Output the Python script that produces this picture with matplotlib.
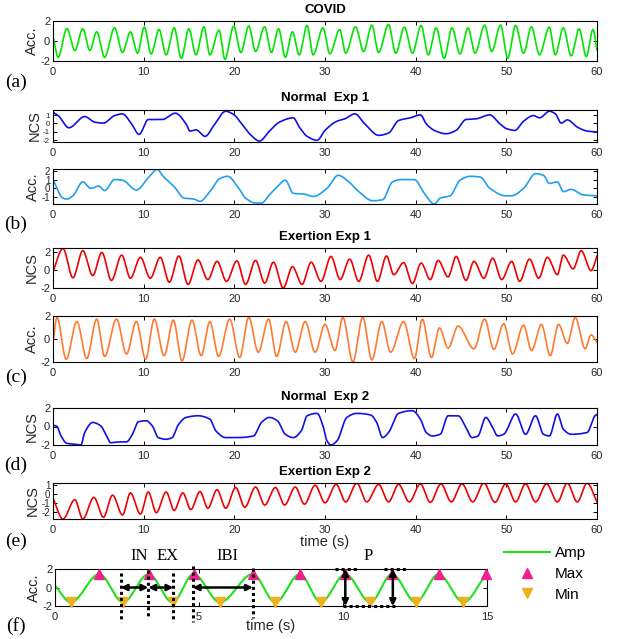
import numpy as np
import matplotlib
matplotlib.use('Agg')
import matplotlib.pyplot as plt
from matplotlib.lines import Line2D

plt.rcParams['font.family'] = ['Liberation Sans', 'DejaVu Sans']
plt.rcParams['axes.unicode_minus'] = False

# ---------------- data ----------------
covid_t = [0, 0.57, 1.53, 2.41, 3.28, 4.07, 4.82, 5.69, 6.79, 7.66, 8.54, 9.33, 10.07, 10.82, 11.69, 12.48,
           13.36, 14.15, 14.98, 15.77, 16.64, 17.30, 18.31, 18.96, 19.93, 20.72, 21.59, 22.34, 23.34, 24.09,
           24.88, 25.62, 26.41, 27.15, 28.03, 28.69, 29.78, 30.53, 31.62, 32.28, 33.37, 34.25, 35.17, 35.91,
           37.01, 37.80, 38.76, 39.64, 40.60, 41.39, 42.26, 43.14, 44.01, 44.89, 45.77, 46.55, 47.61, 48.39,
           49.36, 50.15, 51.02, 51.90, 52.77, 53.65, 54.74, 55.40, 56.28, 57.15, 58.03, 58.82, 59.56, 60]
covid_v = [0.47, -1.63, 1.25, -0.95, 1.22, -0.95, 0.92, -1.63, 1.32, -1.15, 0.92, -1.22, 1.39, -1.29, 1.15, -1.39,
           1.32, -1.73, 1.22, -1.39, 1.42, -1.39, 1.08, -1.83, 1.49, -1.15, 1.49, -1.05, 1.42, -1.15,
           1.22, -1.63, 0.92, -1.39, 1.56, -1.39, 1.32, -1.29, 1.15, -1.22, 1.42, -1.05, 1.59, -1.15,
           1.66, -1.22, 1.39, -1.22, 1.56, -1.39, 1.32, -1.73, 1.32, -1.29, 1.32, -1.22, 1.59, -1.05,
           1.59, -1.73, 1.56, -1.22, 1.42, -1.39, 1.39, -1.39, 1.32, -1.49, 1.22, -1.56, 1.15, -0.9]

n1_ncs_t = [0, 0.57, 1.75, 3.50, 4.60, 5.56, 6.79, 7.66, 8.54, 9.50, 10.51, 12.04, 13.49, 14.67, 15.11, 15.77,
            16.78, 17.74, 19.05, 19.93, 20.81, 21.68, 22.78, 23.87, 24.97, 26.50, 27.16, 28.03, 29.13, 30.00,
            31.32, 32.19, 33.29, 34.38, 35.92, 37.01, 38.11, 39.42, 40.52, 41.17, 42.05, 43.36, 44.46, 45.55,
            46.65, 48.18, 49.28, 50.06, 50.94, 51.90, 53.00, 53.66, 54.75, 55.41, 56.06, 56.72, 57.82, 58.91, 60]
n1_ncs_v = [1.33, 0.94, -0.51, 0.82, 0.16, 0.04, 0.94, 1.14, 0.16, -1.29, 0.47, 0.47, 1.22, -0.04, -0.90, -0.75,
            -1.53, -0.24, 1.45, 1.06, -0.04, -1.22, -2.08, -0.90, 0.16, 0.67, -0.43, -1.53, -2.0, -0.82,
            0.27, 0.55, 1.14, -0.04, -1.41, -1.14, 0.35, 0.67, 1.02, -0.04, -0.82, -1.22, -0.82, 0.47,
            0.55, 1.02, -0.04, -0.63, -0.82, 0.27, 0.94, 0.67, 1.45, 1.14, 0.04, 0.43, -0.43, -0.90, -1.02]

n1_acc_t = [0, 1.10, 1.53, 2.19, 3.29, 4.16, 5.04, 5.69, 6.79, 7.66, 9.20, 10.51, 11.52, 12.05, 13.36, 14.45,
            15.55, 16.21, 17.30, 18.40, 19.27, 20.37, 21.24, 22.34, 23.0, 23.87, 24.75, 25.62, 26.50, 27.81,
            28.69, 30.22, 31.45, 32.63, 33.72, 35.26, 36.35, 37.45, 38.33, 39.86, 40.95, 42.05, 42.71, 43.80,
            44.90, 45.99, 47.09, 48.18, 49.93, 50.59, 51.90, 53.22, 54.09, 54.75, 55.63, 56.28, 57.16, 58.47, 60]
n1_acc_v = [1.0, -1.11, -1.22, -0.85, 0.74, 0, 0.26, -0.26, 1.0, 0.93, -0.19, 1.22, 2.15, 1.48, 0.19, -1.11,
            -1.22, -1.48, -0.37, 1.11, 1.37, 0.19, -1.11, -1.67, -1.67, -0.74, 0.19, 0.93, -0.56, -0.67,
            -0.93, 0, 1.48, 0.74, -0.37, -1.41, -1.30, 0.74, 1.0, 1.0, -0.56, -1.78, -1.11, -0.85,
            0.93, 1.37, 1.30, 0, -0.85, -0.85, 0, 1.67, 1.48, 0.56, 0.74, -0.37, -0.11, -0.74, -0.85]

e1_ncs_t = [0, 1.10, 2.19, 3.29, 4.38, 5.39, 6.44, 7.58, 8.54, 9.64, 10.73, 11.83, 12.83, 13.88, 14.89, 15.99,
            17.08, 18.09, 19.14, 20.28, 21.24, 22.34, 23.35, 24.31, 25.40, 26.41, 27.46, 28.47, 29.56, 30.66,
            31.67, 32.72, 33.72, 34.82, 35.78, 36.79, 37.58, 38.67, 39.64, 40.60, 41.61, 42.48, 43.58, 44.46,
            45.55, 46.43, 47.52, 48.49, 49.49, 50.59, 51.46, 52.56, 53.57, 54.53, 55.63, 56.28, 57.37, 58.25,
            59.35, 60]
e1_ncs_v = [-0.2, 2.4, -0.9, 2.15, -0.65, 1.95, -1.2, 1.65, -0.95, 1.4, -0.95, 1.4, -1.4, 1.55, -1.65, 1.1,
            -1.1, 0.95, -1.3, 1.0, -1.65, 1.05, -1.5, 0.85, -2.05, 0.35, -1.65, 0.85, -1.3, 1.5,
            -1.1, 1.2, -1.3, 1.65, -1.3, 1.55, -0.55, 0.8, -1.55, 0.75, -1.1, 1.05, -0.8, 1.5,
            -1.2, 0.95, -0.95, 1.3, -1.1, 0.95, -1.3, 1.2, -0.95, 1.4, -0.55, 1.65, 0.1, 2.15, -0.1, 1.55]

e1_acc_t = [0, 0.44, 1.45, 2.63, 3.72, 4.82, 5.69, 7.01, 8.10, 9.20, 10.21, 11.17, 12.26, 13.27, 14.23, 15.33,
            16.34, 17.30, 18.26, 19.49, 20.59, 21.59, 22.64, 23.78, 24.66, 25.71, 26.72, 27.81, 28.91, 30.00,
            31.10, 31.97, 33.07, 34.16, 35.17, 36.27, 37.23, 38.67, 39.86, 40.73, 41.74, 42.62, 43.58, 44.68,
            46.43, 47.61, 48.62, 49.71, 50.68, 51.90, 52.78, 53.87, 54.84, 55.76, 56.72, 57.60, 58.69, 59.35, 60]
e1_acc_v = [-0.24, 1.88, -1.76, 1.52, -1.70, 1.73, -1.52, 1.73, -1.30, 1.52, -1.76, 1.73, -1.45, 1.64, -1.91, 1.64,
            -1.45, 1.52, -1.52, 1.73, -1.61, 1.88, -1.15, 1.73, -1.52, 1.52, -1.15, 1.52, -1.15, 1.27,
            -1.0, 1.88, -2.0, 1.88, -1.82, 1.52, -1.15, 1.52, -1.70, 1.73, -1.61, 0.97, -0.79, 1.12,
            -0.85, 1.73, -0.91, 1.33, -1.30, 1.21, -1.0, 1.27, -1.45, 1.27, -0.39, 1.88, -0.85, 0.36, -0.30]

n2_ncs_t = [0, 0.44, 0.88, 1.53, 2.63, 3.07, 3.50, 4.38, 5.26, 5.91, 6.35, 7.23, 8.10, 8.76, 9.42, 10.29,
            10.95, 11.61, 12.48, 13.14, 13.80, 14.67, 15.99, 17.30, 17.96, 19.05, 20.37, 22.12, 22.99, 23.87,
            24.75, 25.62, 26.50, 27.38, 28.03, 29.13, 29.78, 30.22, 30.66, 31.32, 32.41, 33.51, 35.04, 35.70,
            36.35, 37.01, 38.11, 39.64, 40.52, 41.17, 41.83, 42.71, 43.58, 44.68, 45.55, 46.21, 46.87, 47.74,
            48.40, 49.06, 49.71, 51.03, 52.12, 53.22, 54.09, 54.75, 55.63, 56.28, 57.16, 58.91, 59.78, 60]
n2_ncs_v = [0.15, 0, -1.02, -1.82, -1.93, -2.0, -0.65, 0.44, 0.07, -1.02, -1.75, -1.67, -1.67, -0.84, 0.51, 0.62,
            0.07, -1.20, -1.38, -1.20, 0.15, 0.98, 1.16, 0.80, -0.47, -1.20, -1.20, -1.02, 0.44, 0.98,
            0.62, -0.84, -1.20, -0.47, 1.16, 1.42, 0.07, -1.56, -2.0, -1.56, 0.98, 1.42, 1.24, 0.44,
            -1.20, -0.65, 1.42, 1.71, 0.80, -0.65, -1.02, -0.84, 1.16, 1.16, -0.11, -1.20, -1.02, 0.98,
            0.07, -1.02, -0.84, 1.35, -0.84, 1.16, -0.84, -1.02, 1.35, -0.29, -0.84, -0.65, 1.16, 1.3]

e2_start = (0.0, -0.45)
e2_end = (60.0, -0.85)
e2_trough_t = [1.10, 3.29, 5.56, 7.66, 9.64, 11.39, 13.36, 15.20, 17.08, 19.05, 21.15, 23.35, 25.54, 27.73,
               30.0, 32.28, 34.60, 37.01, 39.29, 41.61, 43.93, 46.30, 48.75, 51.03, 53.22, 55.63, 57.82]
e2_trough_v = [-2.75, -2.75, -2.55, -2.3, -2.2, -2.05, -1.8, -1.7, -1.55, -1.55, -1.45, -1.2, -1.2, -1.1,
               -0.95, -0.85, -0.85, -0.85, -0.85, -0.9, -0.85, -0.85, -0.9, -0.85, -0.85, -0.85, -0.85]
e2_peak_t = [2.41, 4.51, 6.57, 8.54, 10.51, 12.48, 14.32, 16.21, 18.09, 20.15, 22.34, 24.53, 26.72, 28.91,
             31.23, 33.51, 35.92, 38.11, 40.52, 42.79, 45.11, 47.52, 49.93, 52.12, 54.44, 56.72, 58.91]
e2_peak_v = [-0.6, -0.35, -0.1, 0.15, 0.25, 0.25, 0.15, 0.3, 0.5, 0.75, 0.8, 0.75, 0.8, 1.0,
             1.1, 1.24, 1.1, 1.1, 1.15, 1.15, 1.15, 1.24, 1.15, 1.15, 1.15, 1.24, 1.24]

f_start = (0.0, 0.2)
f_max_t = [1.54, 3.25, 4.81, 6.87, 8.50, 10.08, 11.70, 13.32, 14.97]
f_max_v = [1.45, 1.45, 1.45, 1.45, 1.45, 1.45, 1.45, 1.45, 1.45]
f_min_t = [0.55, 2.36, 4.08, 5.73, 7.65, 9.23, 10.95, 12.53, 14.18]
f_min_v = [-1.6, -1.6, -1.6, -1.6, -1.6, -1.6, -1.6, -1.6, -1.6]

# ---------------- helpers ----------------
W, H = 621, 639
fig = plt.figure(figsize=(W / 100, H / 100), dpi=100)
TXT = '#262626'
SERIF = ['Liberation Serif', 'DejaVu Serif']


def box(l, t, r, b):
    return [l / W, 1 - b / H, (r - l) / W, (b - t) / H]


def pchip(x, y, xi):
    x = np.asarray(x, float)
    y = np.asarray(y, float)
    h = np.diff(x)
    d = np.diff(y) / h
    n = len(x)
    m = np.zeros(n)
    for k in range(1, n - 1):
        if d[k - 1] * d[k] > 0:
            w1 = 2 * h[k] + h[k - 1]
            w2 = h[k] + 2 * h[k - 1]
            m[k] = (w1 + w2) / (w1 / d[k - 1] + w2 / d[k])
    m[0] = d[0]
    m[-1] = d[-1]
    idx = np.clip(np.searchsorted(x, xi) - 1, 0, n - 2)
    s = (xi - x[idx]) / h[idx]
    h00 = 2 * s ** 3 - 3 * s ** 2 + 1
    h10 = s ** 3 - 2 * s ** 2 + s
    h01 = -2 * s ** 3 + 3 * s ** 2
    h11 = s ** 3 - s ** 2
    return h00 * y[idx] + h10 * h[idx] * m[idx] + h01 * y[idx + 1] + h11 * h[idx] * m[idx + 1]


def curve(ax, t, v, color, lw=1.2):
    ti = np.linspace(t[0], t[-1], 4000)
    ax.plot(ti, pchip(t, v, ti), color=color, lw=lw)


def style(ax, ylim, yticks, ylabel, xlim=(0, 60), xticks=range(0, 61, 10), ysize=8):
    ax.set_xlim(*xlim)
    ax.set_ylim(*ylim)
    ax.set_xticks(list(xticks))
    ax.set_yticks(yticks)
    ax.set_yticklabels([f'{v:g}' for v in yticks])
    ax.tick_params(direction='in', top=True, right=True, length=3, width=0.7,
                   labelsize=8, labelcolor=TXT)
    ax.tick_params(axis='x', pad=4)
    ax.tick_params(axis='y', pad=2, labelsize=ysize)
    for s in ax.spines.values():
        s.set_linewidth(0.8)
    ax.set_ylabel(ylabel, fontsize=10.5, color=TXT, labelpad=1)


def title(y, s):
    fig.text(325 / W, 1 - y / H, s, fontsize=9.5, weight='bold', ha='center', va='center')


def plabel(y, s):
    fig.text(16 / W, 1 - y / H, s, fontsize=14, family=SERIF, ha='center', va='center')


# ---------------- panels ----------------
ax = fig.add_axes(box(53, 21, 597, 61))
curve(ax, covid_t, covid_v, '#00e600')
style(ax, (-2, 2), [-2, 0, 2], 'Acc.')
title(10, 'COVID')
plabel(82, '(a)')

ax = fig.add_axes(box(53, 110, 597, 142))
curve(ax, n1_ncs_t, n1_ncs_v, '#1010e8')
style(ax, (-2.2, 1.6), [-2, -1, 0, 1], 'NCS', ysize=5.8)
title(98, 'Normal  Exp 1')

ax = fig.add_axes(box(53, 169, 597, 204))
curve(ax, n1_acc_t, n1_acc_v, '#1ea0f0')
style(ax, (-1.78, 2.2), [-1, 0, 1, 2], 'Acc.', ysize=7)
plabel(224, '(b)')

ax = fig.add_axes(box(53, 248, 597, 288))
curve(ax, e1_ncs_t, e1_ncs_v, '#f00000')
style(ax, (-2.05, 2.45), [-2, 0, 2], 'NCS')
title(237, 'Exertion Exp 1')

ax = fig.add_axes(box(53, 316, 597, 362))
curve(ax, e1_acc_t, e1_acc_v, '#ff7a30')
style(ax, (-2, 2), [-2, 0, 2], 'Acc.')
plabel(377, '(c)')

ax = fig.add_axes(box(53, 408, 597, 445))
curve(ax, n2_ncs_t, n2_ncs_v, '#1010e8')
style(ax, (-2, 2), [-2, 0, 2], 'NCS')
title(397, 'Normal  Exp 2')
plabel(465, '(d)')

ax = fig.add_axes(box(53, 483, 597, 519))
e2_pts = sorted([e2_start, e2_end] + list(zip(e2_trough_t, e2_trough_v)) + list(zip(e2_peak_t, e2_peak_v)))
curve(ax, [p[0] for p in e2_pts], [p[1] for p in e2_pts], '#f00000')
style(ax, (-2.75, 1.25), [-2, -1, 0, 1], 'NCS', ysize=7)
ax.set_xlabel('time (s)', fontsize=10.5, color=TXT, labelpad=0)
title(472, 'Exertion Exp 2')
plabel(541, '(e)')

# ---------------- panel (f) ----------------
GREEN = '#20e020'
MAXC = '#f0208c'
MINC = '#edb120'
ax = fig.add_axes(box(55, 569, 487, 606))
f_pts = sorted([f_start] + list(zip(f_max_t, f_max_v)) + list(zip(f_min_t, f_min_v)))
curve(ax, [p[0] for p in f_pts], [p[1] for p in f_pts], GREEN, lw=1.5)
ax.plot(f_max_t, f_max_v, ls='none', marker='^', ms=7.5, color=MAXC, clip_on=False, zorder=4)
ax.plot(f_min_t, f_min_v, ls='none', marker='v', ms=7.5, color=MINC, clip_on=False, zorder=4)
style(ax, (-2, 2), [-2, 0, 2], 'Acc.', xlim=(0, 15), xticks=[0, 5, 10, 15])
ax.set_xlabel('time (s)', fontsize=10.5, color=TXT, labelpad=-2)
plabel(626, '(f)')

dot = dict(color='k', lw=2.2, ls=(0, (1, 1)), clip_on=False, zorder=5)
for xv, y0, y1 in [(2.28, 1.57, -3.73), (3.24, 1.9, -3.2), (4.11, 1.57, -3.73),
                   (4.78, 2.3, -3.73), (6.87, 2.1, -3.3)]:
    ax.plot([xv, xv], [y0, y1], **dot)
ax.plot([9.71, 10.54], [2, 2], **dot)
ax.plot([11.43, 12.18], [2, 2], **dot)
ax.plot([9.99, 11.91], [-2, -2], **dot)

arr = dict(arrowstyle='<|-|>', color='k', lw=1.8, mutation_scale=9, shrinkA=0, shrinkB=0)
for x0, x1 in [(2.28, 3.24), (3.24, 4.11), (4.78, 6.87)]:
    ax.annotate('', xy=(x1, 0), xytext=(x0, 0), arrowprops=arr, annotation_clip=False, zorder=6)
for xv in [10.08, 11.73]:
    ax.annotate('', xy=(xv, -2), xytext=(xv, 2), arrowprops=arr, annotation_clip=False, zorder=6)

for xv, s in [(2.92, 'IN'), (3.9, 'EX'), (5.97, 'IBI'), (10.88, 'P')]:
    ax.text(xv, 3.45, s, fontsize=12, family=SERIF, ha='center', va='center', clip_on=False)

handles = [Line2D([], [], color=GREEN, lw=1.5),
           Line2D([], [], ls='none', marker='^', ms=7.5, color=MAXC),
           Line2D([], [], ls='none', marker='v', ms=7.5, color=MINC)]
fig.legend(handles, ['Amp', 'Max', 'Min'], loc='upper left', bbox_to_anchor=(504 / W, 1 - 546 / H),
           frameon=False, fontsize=11, handlelength=3.0, handletextpad=0.35, labelspacing=0.45,
           borderpad=0, borderaxespad=0)

fig.savefig('out.png', dpi=100)
